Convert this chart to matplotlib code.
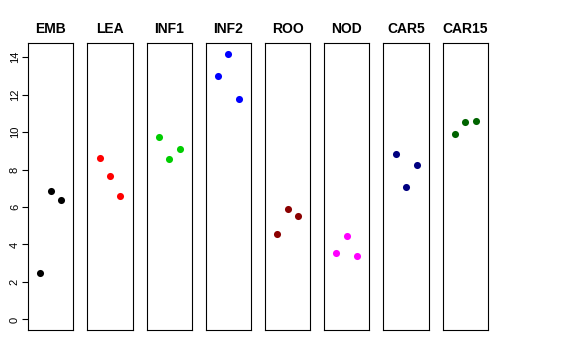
import matplotlib
matplotlib.use("Agg")
import matplotlib.pyplot as plt

plt.rcParams["font.family"] = ["Liberation Sans", "DejaVu Sans"]

groups = ["EMB", "LEA", "INF1", "INF2", "ROO", "NOD", "CAR5", "CAR15"]
colors = ["black", "red", "#00CD00", "blue", "#8B0000", "magenta", "#000080", "#006400"]
reps = [1, 2, 3]
values = [
    [2.48, 6.88, 6.40],
    [8.62, 7.68, 6.60],
    [9.73, 8.58, 9.11],
    [13.01, 14.17, 11.77],
    [4.56, 5.90, 5.51],
    [3.56, 4.47, 3.40],
    [8.85, 7.07, 8.23],
    [9.91, 10.51, 10.57],
]
ymax = max(max(v) for v in values)

fig, axes = plt.subplots(1, len(groups), figsize=(5.76, 3.6), dpi=100, sharey=True)
fig.subplots_adjust(left=0.049, right=0.847, top=0.880, bottom=0.083, wspace=0.31)

for i, ax in enumerate(axes):
    ax.scatter(reps, values[i], color=colors[i], s=26, zorder=3, linewidths=0)
    ax.set_xlim(-0.16, 4.16)
    pad = 0.04 * ymax
    ax.set_ylim(-pad, ymax + pad)
    ax.set_xticks([])
    ax.set_title(groups[i], fontsize=10, fontweight="bold", pad=7)
    for s in ax.spines.values():
        s.set_linewidth(0.8)
        s.set_color("black")
    if i == 0:
        ax.set_yticks(range(0, 15, 2))
        ax.tick_params(axis="y", labelsize=8, length=4, width=0.8, labelrotation=90, pad=2)
        for lab in ax.get_yticklabels():
            lab.set_verticalalignment("center")
    else:
        ax.tick_params(axis="y", left=False, labelleft=False)

fig.savefig("out.png", dpi=100)
